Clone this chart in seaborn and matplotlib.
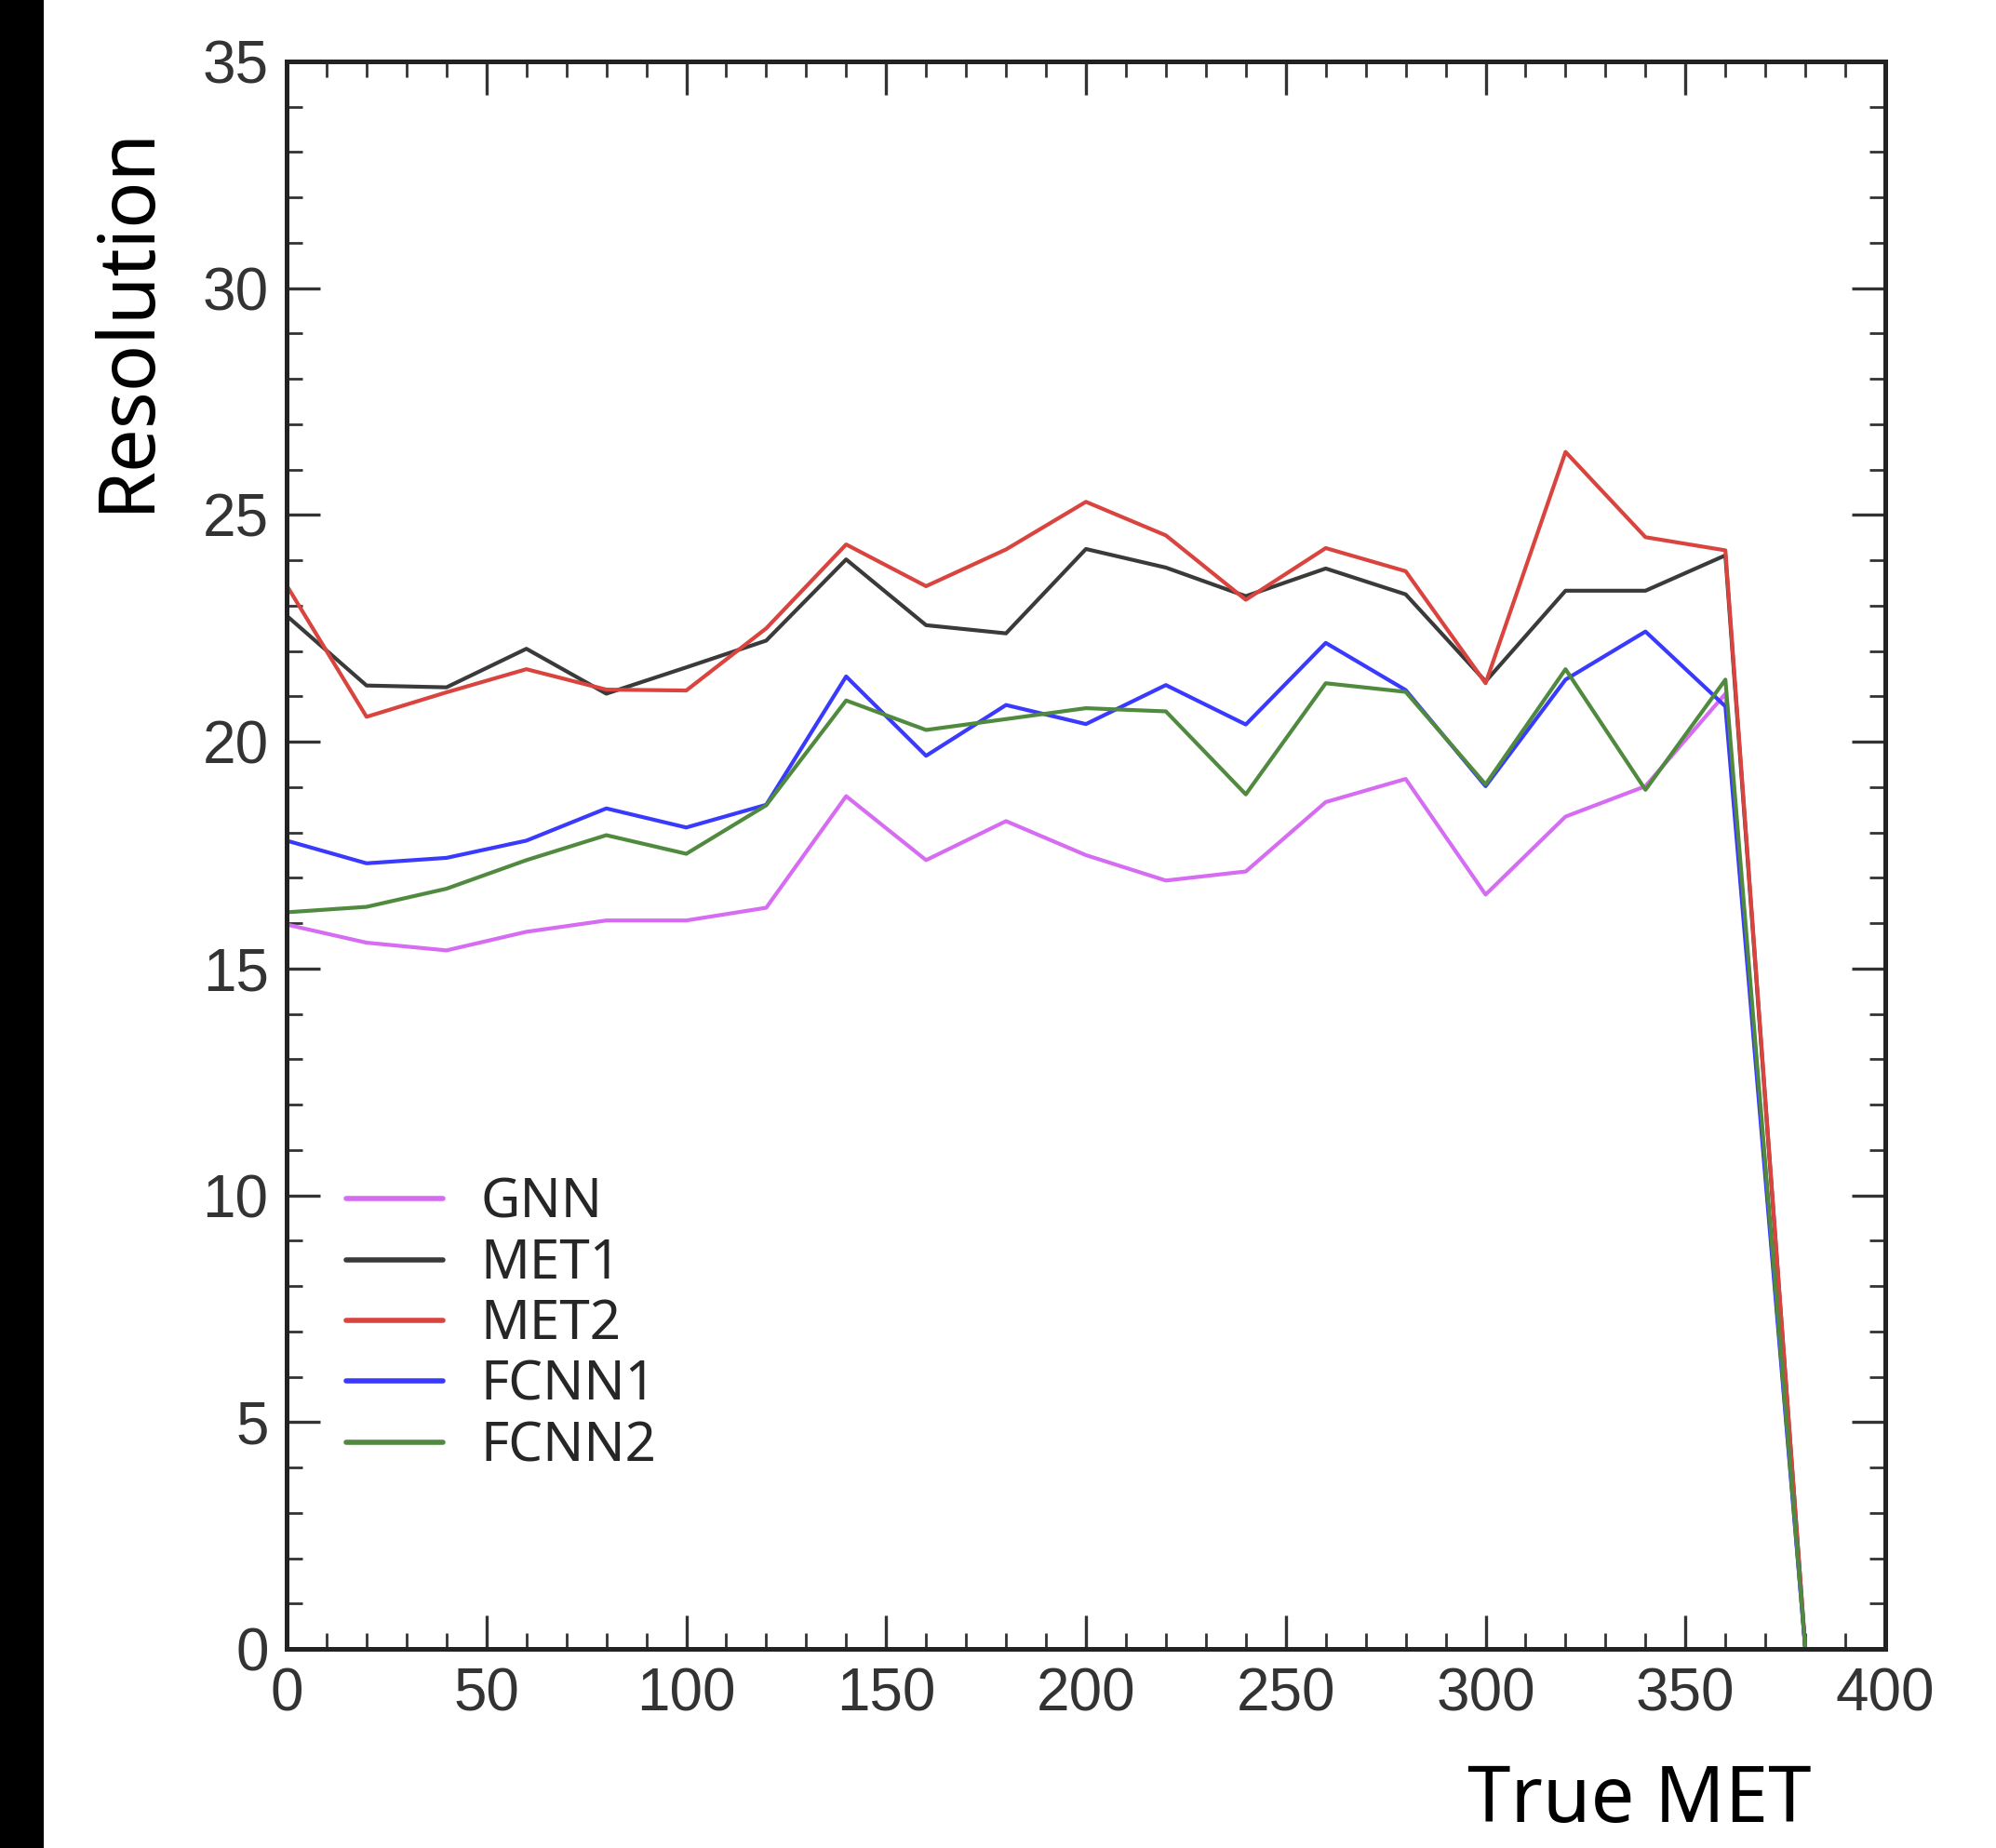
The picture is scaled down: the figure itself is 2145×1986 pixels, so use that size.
import numpy as np
import pandas as pd
import matplotlib
matplotlib.use("Agg")
import matplotlib.pyplot as plt
import seaborn as sns
from matplotlib.patches import Rectangle
from matplotlib.ticker import MultipleLocator

# =========================
# data
# =========================
true_met = [0, 20, 40, 60, 80, 100, 120, 140, 160, 180,
            200, 220, 240, 260, 280, 300, 320, 340, 360, 380]

gnn = [15.97, 15.57, 15.40, 15.81, 16.06, 16.06, 16.34, 18.80, 17.39, 18.25,
       17.50, 16.94, 17.14, 18.67, 19.18, 16.63, 18.35, 19.02, 21.06, 0.0]
met1 = [22.78, 21.24, 21.20, 22.05, 21.06, 21.64, 22.23, 24.02, 22.57, 22.39,
        24.25, 23.84, 23.21, 23.82, 23.25, 21.33, 23.33, 23.33, 24.11, 0.0]
met2 = [23.45, 20.55, 21.09, 21.60, 21.15, 21.13, 22.50, 24.35, 23.43, 24.24,
        25.29, 24.55, 23.13, 24.27, 23.76, 21.29, 26.39, 24.51, 24.22, 0.0]
fcnn1 = [17.82, 17.32, 17.44, 17.82, 18.53, 18.11, 18.61, 21.44, 19.69, 20.81,
         20.39, 21.25, 20.38, 22.18, 21.14, 19.02, 21.37, 22.43, 20.78, 0.0]
fcnn2 = [16.24, 16.36, 16.76, 17.39, 17.94, 17.53, 18.60, 20.91, 20.26, 20.50,
         20.74, 20.67, 18.84, 21.29, 21.10, 19.06, 21.60, 18.94, 21.37, 0.0]

models = ["GNN", "MET1", "MET2", "FCNN1", "FCNN2"]
colors = ["#d66cf2", "#3a3a3a", "#d9443f", "#3a3aff", "#4f8a3e"]

df = pd.concat([
    pd.DataFrame({"True MET": true_met, "Resolution": vals, "model": name})
    for name, vals in zip(models, [gnn, met1, met2, fcnn1, fcnn2])
], ignore_index=True)

# =========================
# style
# =========================
sns.set_style("ticks")
plt.rcParams["font.family"] = ["Liberation Sans", "DejaVu Sans"]

fig = plt.figure(figsize=(21.45, 19.86), dpi=100)
fig.patches.append(Rectangle((0, 0), 47 / 2145, 1, transform=fig.transFigure,
                             facecolor="black", edgecolor="none", zorder=0))
ax = fig.add_axes([308 / 2145, 1 - 1772 / 1986, 1718 / 2145, 1706 / 1986])

sns.lineplot(data=df, x="True MET", y="Resolution", hue="model",
             hue_order=models, palette=dict(zip(models, colors)),
             linewidth=3.0, ax=ax, sort=False)

ax.set_xlim(0, 400)
ax.set_ylim(0, 35)
ax.xaxis.set_major_locator(MultipleLocator(50))
ax.xaxis.set_minor_locator(MultipleLocator(10))
ax.yaxis.set_major_locator(MultipleLocator(5))
ax.yaxis.set_minor_locator(MultipleLocator(1))

for s in ax.spines.values():
    s.set_linewidth(3.6)
    s.set_color("#222222")

ax.tick_params(which="both", direction="in", top=True, right=True,
               colors="#333333", labelcolor="#333333")
ax.tick_params(which="major", length=26, width=2.4, labelsize=46, pad=14)
ax.tick_params(which="minor", length=12, width=2.0)

# handwritten-ish axis labels
ax.set_ylabel("Resolution", fontsize=60, family=["Noto Sans", "DejaVu Sans"],
              color="black", va="center")
ax.yaxis.set_label_coords(-0.0995, 0.838)
ax.set_xlabel("True MET", fontsize=60, family=["Noto Sans", "DejaVu Sans"],
              color="black", va="center")
ax.xaxis.set_label_coords(0.846, -0.096)

sns.move_legend(ax, "upper left", bbox_to_anchor=(0.0373, 0.298),
                frameon=False, title=None, borderpad=0, borderaxespad=0,
                prop={"family": ["Noto Sans", "DejaVu Sans"], "size": 42},
                handlelength=1.78, handletextpad=0.7, labelspacing=0.11)
for line in ax.get_legend().get_lines():
    line.set_linewidth(4)

fig.savefig("out.png", dpi=100, facecolor="white")
